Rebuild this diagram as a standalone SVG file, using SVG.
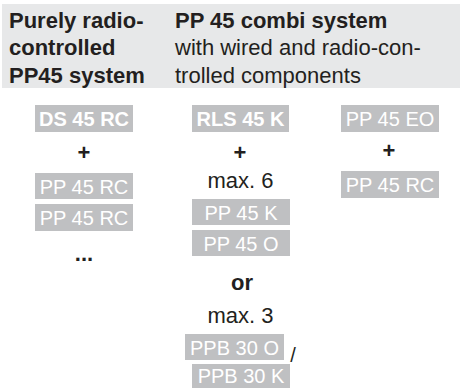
<svg xmlns="http://www.w3.org/2000/svg" width="460" height="388" viewBox="0 0 460 388">
<style>
.h{font-family:"Liberation Sans",Arial,sans-serif;font-size:22px;fill:#231f20}
.b{font-weight:bold}
.box{fill:#bfc0c2}
.bt{font-family:"Liberation Sans",Arial,sans-serif;font-size:20px;fill:#ffffff;text-anchor:middle}
.t{font-family:"Liberation Sans",Arial,sans-serif;font-size:22px;fill:#231f20;text-anchor:middle}
</style>
<rect x="2" y="4" width="458" height="84" fill="#e7e8e9"/>
<g id="header-left">
<text class="h b" x="9" y="27.5">Purely radio-</text>
<text class="h b" x="9" y="55">controlled</text>
<text class="h b" x="9" y="82.5">PP45 system</text>
</g>
<g id="header-right">
<text class="h b" x="175" y="27.5">PP 45 combi system</text>
<text class="h" x="175" y="55">with wired and radio-con-</text>
<text class="h" x="175" y="82.5">trolled components</text>
</g>
<g id="ds45rc"><rect class="box" x="35" y="105" width="98" height="27"/><text class="bt b" x="84" y="126">DS 45 RC</text></g>
<g id="plus1"><text class="t b" x="84" y="160">+</text></g>
<g id="pp45rc-1"><rect class="box" x="35" y="173" width="98" height="26"/><text class="bt" x="84" y="194">PP 45 RC</text></g>
<g id="pp45rc-2"><rect class="box" x="35" y="204" width="98" height="27"/><text class="bt" x="84" y="225">PP 45 RC</text></g>
<g id="dots"><text class="t b" x="84" y="261">...</text></g>
<g id="rls45k"><rect class="box" x="192" y="105" width="97" height="27"/><text class="bt b" x="240.5" y="126">RLS 45 K</text></g>
<g id="plus2"><text class="t b" x="240" y="160">+</text></g>
<g id="max6"><text class="t" x="240.5" y="188">max. 6</text></g>
<g id="pp45k"><rect class="box" x="192" y="199" width="98" height="26"/><text class="bt" x="241" y="220">PP 45 K</text></g>
<g id="pp45o"><rect class="box" x="192" y="230" width="98" height="26"/><text class="bt" x="241" y="251">PP 45 O</text></g>
<g id="or"><text class="t b" x="242" y="290">or</text></g>
<g id="max3"><text class="t" x="240.5" y="323">max. 3</text></g>
<g id="ppb30o"><rect class="box" x="185" y="334" width="99" height="26"/><text class="bt" x="234.5" y="355">PPB 30 O</text><text class="t" x="293" y="362" style="font-size:20px">/</text></g>
<g id="ppb30k"><rect class="box" x="192" y="364" width="98" height="24"/><text class="bt" x="241" y="383">PPB 30 K</text></g>
<g id="pp45eo"><rect class="box" x="341" y="105" width="98" height="27"/><text class="bt" x="390" y="126">PP 45 EO</text></g>
<g id="plus3"><text class="t b" x="389" y="158">+</text></g>
<g id="pp45rc-3"><rect class="box" x="341" y="171" width="98" height="27"/><text class="bt" x="390" y="192">PP 45 RC</text></g>
<g id="connectors"/>
</svg>
